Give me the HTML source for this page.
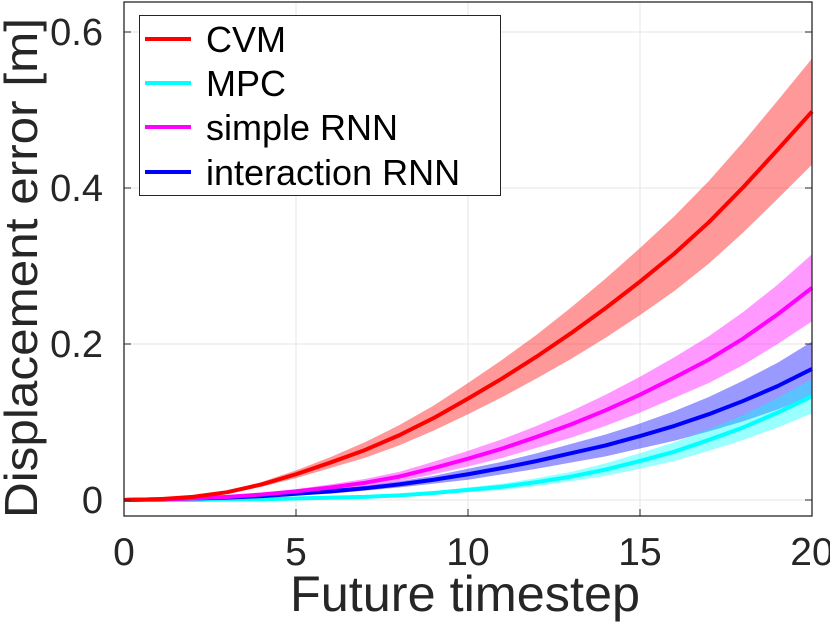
<!DOCTYPE html>
<html><head><meta charset="utf-8"><style>
html,body{margin:0;padding:0;background:#fff;}
svg{display:block;font-family:"Liberation Sans",sans-serif;}
</style></head><body>
<svg id="chart" width="830" height="632" viewBox="0 0 830 632" xmlns="http://www.w3.org/2000/svg">
<g id="grid"></g>
<g id="bands"></g>
<g id="lines"></g>
<g id="axes"></g>
<text x="465" y="611" font-size="50" text-anchor="middle" textLength="350" lengthAdjust="spacingAndGlyphs" fill="#262626">Future timestep</text>
<text transform="translate(37,268) rotate(-90)" font-size="46" text-anchor="middle" textLength="500" lengthAdjust="spacingAndGlyphs" fill="#262626">Displacement error [m]</text>
<g>
<rect x="139.5" y="15.5" width="361" height="180" fill="#fff" stroke="#262626" stroke-width="1"/>
<line x1="145" y1="39" x2="191" y2="39" stroke="#ff0000" stroke-width="4"/>
<text x="206" y="52" font-size="36" fill="#000">CVM</text>
<line x1="145" y1="83" x2="191" y2="83" stroke="#00ffff" stroke-width="4"/>
<text x="206" y="96" font-size="36" fill="#000">MPC</text>
<line x1="145" y1="127" x2="191" y2="127" stroke="#ff00ff" stroke-width="4"/>
<text x="206" y="140" font-size="36" fill="#000">simple RNN</text>
<line x1="145" y1="172" x2="191" y2="172" stroke="#0000ff" stroke-width="4"/>
<text x="206" y="185" font-size="36" fill="#000">interaction RNN</text>
</g>
</svg>
<script>
const timesteps=[0,1,2,3,4,5,6,7,8,9,10,11,12,13,14,15,16,17,18,19,20];
const cvmMean=[0,0.001,0.004,0.01,0.02,0.033,0.048,0.064,0.083,0.105,0.13,0.156,0.184,0.214,0.246,0.28,0.316,0.356,0.401,0.449,0.498];
const cvmHalf=[0,0,0.001,0.002,0.003,0.005,0.007,0.01,0.013,0.016,0.02,0.024,0.028,0.033,0.038,0.043,0.048,0.053,0.058,0.063,0.068];
const mpcMean=[0,0,0,0.001,0.001,0.002,0.003,0.004,0.006,0.009,0.013,0.017,0.023,0.03,0.039,0.05,0.062,0.077,0.093,0.112,0.133];
const mpcHalf=[0,0,0,0,0,0.001,0.001,0.001,0.002,0.002,0.003,0.004,0.005,0.006,0.008,0.01,0.012,0.014,0.016,0.019,0.022];
const simpleMean=[0,0.001,0.002,0.004,0.007,0.011,0.016,0.022,0.03,0.041,0.053,0.066,0.081,0.097,0.115,0.135,0.157,0.18,0.207,0.238,0.272];
const simpleHalf=[0,0,0.001,0.001,0.002,0.003,0.004,0.005,0.006,0.008,0.01,0.012,0.014,0.017,0.02,0.023,0.026,0.03,0.034,0.038,0.043];
const interMean=[0,0.001,0.002,0.003,0.005,0.008,0.011,0.015,0.02,0.026,0.033,0.041,0.05,0.06,0.07,0.082,0.095,0.11,0.127,0.146,0.168];
const interHalf=[0,0,0,0.001,0.001,0.002,0.003,0.003,0.004,0.005,0.007,0.008,0.01,0.012,0.014,0.016,0.019,0.022,0.026,0.03,0.035];
const xTicks=[0,5,10,15,20];
const yTicks=[0,0.2,0.4,0.6];
const yTickLabels=["0","0.2","0.4","0.6"];

const NS="http://www.w3.org/2000/svg";
const L=124,R=812,T=2,B=516;
function sx(v){return L+(v-0)/(20-0)*(R-L);}
function sy(v){return 500-v/0.2*156;}
function mk(tag,attrs,parent){const e=document.createElementNS(NS,tag);for(const k in attrs)e.setAttribute(k,attrs[k]);parent.appendChild(e);return e;}
const grid=document.getElementById('grid'),bands=document.getElementById('bands'),lines=document.getElementById('lines'),axes=document.getElementById('axes');
mk('rect',{x:L,y:T,width:R-L,height:B-T,fill:'#fff'},grid);
xTicks.forEach(t=>{
  const g=mk('line',{x1:sx(t),x2:sx(t),y1:T,y2:B,stroke:'#e6e6e6','stroke-width':1},grid);
  
  
  const tk=mk('line',{x1:sx(t),x2:sx(t),y1:B,y2:B-7,stroke:'#262626','stroke-width':1},axes);
  
  
  const lb=mk('text',{x:sx(t),y:565,'font-size':39,'text-anchor':'middle',fill:'#262626'},axes);
  lb.textContent=String(t);
  
  
});
yTicks.forEach((t,i)=>{
  const g=mk('line',{x1:L,x2:R,y1:sy(t),y2:sy(t),stroke:'#e6e6e6','stroke-width':1},grid);
  
  
  const tk=mk('line',{x1:L,x2:L+7,y1:sy(t),y2:sy(t),stroke:'#262626','stroke-width':1},axes);
  
  
  const tk2=mk('line',{x1:R,x2:R-7,y1:sy(t),y2:sy(t),stroke:'#262626','stroke-width':1},axes);
  
  
  const lb=mk('text',{x:103,y:sy(t)+13,'font-size':38,'text-anchor':'end',fill:'#262626'},axes);
  lb.textContent=yTickLabels[i];
  
  
});
const frame=mk('rect',{x:L,y:T,width:R-L,height:B-T,fill:'none',stroke:'#262626','stroke-width':1.3},axes);



const series=[
 {name:'cvm',mean:cvmMean,half:cvmHalf,color:'#ff0000'},
 {name:'simple-rnn',mean:simpleMean,half:simpleHalf,color:'#ff00ff'},
 {name:'interaction-rnn',mean:interMean,half:interHalf,color:'#0000ff'},
 {name:'mpc',mean:mpcMean,half:mpcHalf,color:'#00ffff'}
];
series.forEach(s=>{
  let up=timesteps.map((t,i)=>sx(t)+','+sy(s.mean[i]+s.half[i]));
  let dn=timesteps.map((t,i)=>sx(t)+','+sy(s.mean[i]-s.half[i])).reverse();
  const p=mk('polygon',{points:up.concat(dn).join(' '),fill:s.color,'fill-opacity':0.4,stroke:'none'},bands);
  
  
});
series.slice().reverse().forEach(s=>{
  const pts=timesteps.map((t,i)=>sx(t)+','+sy(s.mean[i])).join(' ');
  const l=mk('polyline',{points:pts,fill:'none',stroke:s.color,'stroke-width':4,'stroke-linejoin':'round'},lines);
  
  
});
</script>
</body></html>
